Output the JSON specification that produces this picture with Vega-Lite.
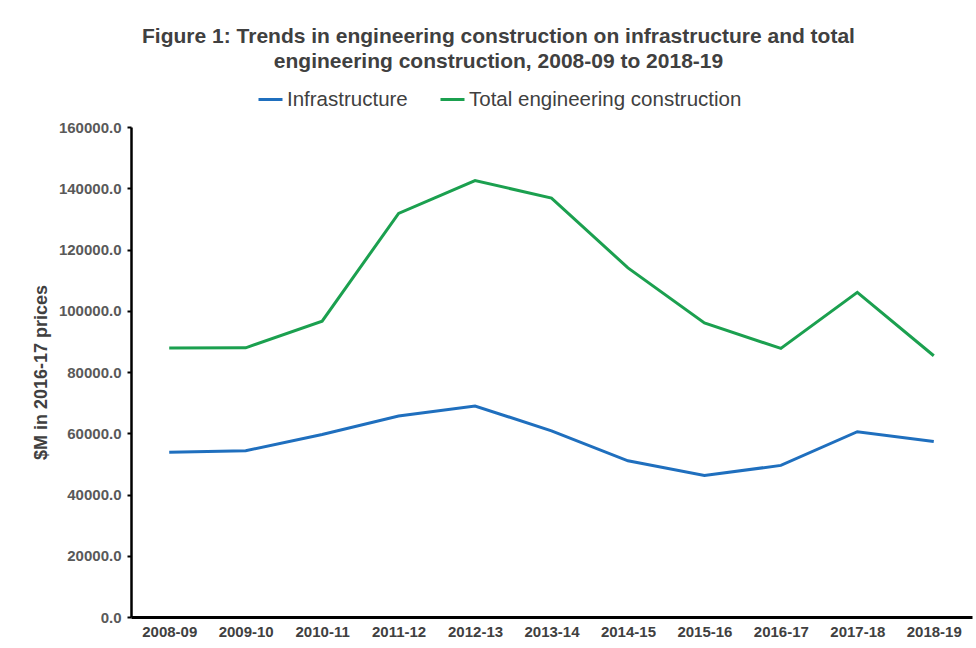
{
  "$schema": "https://vega.github.io/schema/vega-lite/v6.json",
  "width": 841,
  "height": 490,
  "autosize": {"type": "none"},
  "padding": {"left": 131, "top": 127, "right": 4, "bottom": 31},
  "background": "white",
  "title": {
    "text": ["Figure 1: Trends in engineering construction on infrastructure and total", "engineering construction, 2008-09 to 2018-19"],
    "font": "Liberation Sans",
    "fontSize": 21,
    "fontWeight": "bold",
    "color": "#404040",
    "anchor": "middle",
    "frame": "group",
    "dx": -53,
    "offset": 14,
    "lineHeight": 25
  },
  "data": {
    "values": [
      {"year": "2008-09", "series": "Infrastructure", "value": 53800},
      {"year": "2009-10", "series": "Infrastructure", "value": 54300},
      {"year": "2010-11", "series": "Infrastructure", "value": 59600},
      {"year": "2011-12", "series": "Infrastructure", "value": 65600},
      {"year": "2012-13", "series": "Infrastructure", "value": 68900},
      {"year": "2013-14", "series": "Infrastructure", "value": 60800},
      {"year": "2014-15", "series": "Infrastructure", "value": 51000},
      {"year": "2015-16", "series": "Infrastructure", "value": 46200},
      {"year": "2016-17", "series": "Infrastructure", "value": 49500},
      {"year": "2017-18", "series": "Infrastructure", "value": 60500},
      {"year": "2018-19", "series": "Infrastructure", "value": 57300},
      {"year": "2008-09", "series": "Total engineering construction", "value": 87800},
      {"year": "2009-10", "series": "Total engineering construction", "value": 87900},
      {"year": "2010-11", "series": "Total engineering construction", "value": 96600},
      {"year": "2011-12", "series": "Total engineering construction", "value": 131800},
      {"year": "2012-13", "series": "Total engineering construction", "value": 142500},
      {"year": "2013-14", "series": "Total engineering construction", "value": 136800},
      {"year": "2014-15", "series": "Total engineering construction", "value": 114000},
      {"year": "2015-16", "series": "Total engineering construction", "value": 96000},
      {"year": "2016-17", "series": "Total engineering construction", "value": 87700},
      {"year": "2017-18", "series": "Total engineering construction", "value": 106000},
      {"year": "2018-19", "series": "Total engineering construction", "value": 85300}
    ]
  },
  "mark": {"type": "line", "strokeWidth": 3},
  "encoding": {
    "x": {
      "field": "year",
      "type": "ordinal",
      "scale": {"type": "point", "padding": 0.5},
      "axis": {
        "title": null,
        "labelAngle": 0,
        "labelFont": "Liberation Sans",
        "labelFontSize": 15,
        "labelFontWeight": "bold",
        "labelColor": "#404040",
        "labelPadding": 7,
        "ticks": false,
        "domainColor": "#000000",
        "domainWidth": 3,
        "grid": false
      }
    },
    "y": {
      "field": "value",
      "type": "quantitative",
      "scale": {"domain": [0, 160000], "nice": false},
      "axis": {
        "title": "$M in 2016-17 prices",
        "titleFont": "Liberation Sans",
        "titleFontSize": 18,
        "titleFontWeight": "bold",
        "titleColor": "#404040",
        "titlePadding": 8,
        "values": [0, 20000, 40000, 60000, 80000, 100000, 120000, 140000, 160000],
        "format": ".1f",
        "labelFont": "Liberation Sans",
        "labelFontSize": 15,
        "labelFontWeight": "bold",
        "labelColor": "#595959",
        "labelPadding": 6,
        "tickColor": "#000000",
        "tickSize": 4,
        "tickWidth": 2,
        "domainColor": "#000000",
        "domainWidth": 2.5,
        "grid": false
      }
    },
    "color": {
      "field": "series",
      "type": "nominal",
      "scale": {"domain": ["Infrastructure", "Total engineering construction"], "range": ["#1f6fbe", "#1ba04f"]},
      "legend": {
        "title": null,
        "orient": "none",
        "direction": "horizontal",
        "legendX": 126,
        "legendY": -41,
        "symbolType": "stroke",
        "symbolStrokeWidth": 3,
        "symbolSize": 576,
        "labelFont": "Liberation Sans",
        "labelFontSize": 20.5,
        "labelLimit": 500,
        "labelColor": "#404040",
        "labelOffset": 3,
        "columnPadding": 26
      }
    }
  },
  "config": {"view": {"stroke": null}}
}
